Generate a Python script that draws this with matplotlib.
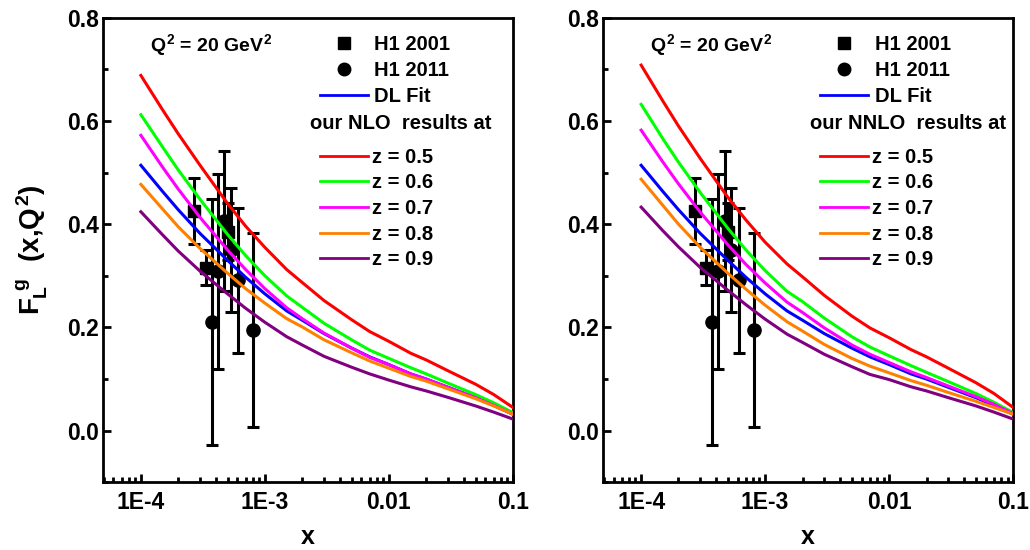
import matplotlib
matplotlib.use("Agg")
import matplotlib.pyplot as plt
from matplotlib.lines import Line2D
from matplotlib.ticker import FixedLocator, FixedFormatter, LogLocator, MultipleLocator, NullFormatter

plt.rcParams['font.family'] = ['Liberation Sans', 'DejaVu Sans']
plt.rcParams['font.weight'] = 'bold'
plt.rcParams['mathtext.fontset'] = 'custom'
plt.rcParams['mathtext.rm'] = 'Liberation Sans:bold'
plt.rcParams['mathtext.it'] = 'Liberation Sans:bold'
plt.rcParams['mathtext.bf'] = 'Liberation Sans:bold'

# curve grid (x) and values
x_curve = [1e-4, 1.5e-4, 2e-4, 3e-4, 5e-4, 7e-4, 1e-3, 1.5e-3, 2e-3, 3e-3,
           5e-3, 7e-3, 1e-2, 1.5e-2, 2e-2, 3e-2, 5e-2, 7e-2, 1e-1]

dl_fit = [0.514, 0.463, 0.428, 0.382, 0.330, 0.297, 0.265, 0.232, 0.214, 0.188,
          0.160, 0.143, 0.128, 0.110, 0.100, 0.084, 0.064, 0.049, 0.032]

nlo_z05 = [0.688, 0.621, 0.575, 0.514, 0.440, 0.396, 0.355, 0.312, 0.287, 0.252,
           0.215, 0.192, 0.173, 0.150, 0.137, 0.116, 0.090, 0.070, 0.045]
nlo_z06 = [0.612, 0.549, 0.505, 0.448, 0.380, 0.339, 0.300, 0.261, 0.239, 0.208,
           0.176, 0.156, 0.140, 0.122, 0.110, 0.092, 0.070, 0.054, 0.035]
nlo_z07 = [0.572, 0.510, 0.468, 0.413, 0.350, 0.312, 0.275, 0.238, 0.217, 0.189,
           0.160, 0.142, 0.128, 0.110, 0.100, 0.084, 0.064, 0.049, 0.032]
nlo_z08 = [0.477, 0.429, 0.395, 0.353, 0.305, 0.275, 0.247, 0.217, 0.201, 0.176,
           0.151, 0.135, 0.121, 0.105, 0.096, 0.081, 0.062, 0.048, 0.032]
nlo_z09 = [0.424, 0.379, 0.348, 0.309, 0.265, 0.237, 0.210, 0.182, 0.166, 0.144,
           0.123, 0.110, 0.098, 0.085, 0.077, 0.0645, 0.048, 0.036, 0.0225]

nnlo_z05 = [0.708, 0.638, 0.590, 0.527, 0.452, 0.408, 0.365, 0.323, 0.298, 0.262,
            0.222, 0.199, 0.180, 0.157, 0.143, 0.121, 0.093, 0.072, 0.045]
nnlo_z06 = [0.632, 0.565, 0.520, 0.461, 0.392, 0.350, 0.310, 0.270, 0.250, 0.218,
            0.182, 0.162, 0.145, 0.126, 0.113, 0.095, 0.072, 0.055, 0.035]
nnlo_z07 = [0.582, 0.520, 0.478, 0.423, 0.360, 0.322, 0.286, 0.249, 0.229, 0.199,
            0.166, 0.148, 0.132, 0.114, 0.103, 0.0865, 0.066, 0.051, 0.033]
nnlo_z08 = [0.487, 0.436, 0.400, 0.355, 0.305, 0.274, 0.243, 0.211, 0.193, 0.167,
            0.140, 0.125, 0.112, 0.097, 0.088, 0.074, 0.057, 0.045, 0.032]
nnlo_z09 = [0.433, 0.387, 0.356, 0.316, 0.272, 0.244, 0.216, 0.187, 0.171, 0.148,
            0.124, 0.109, 0.099, 0.085, 0.077, 0.064, 0.048, 0.036, 0.0225]

z_labels = ["z = 0.5", "z = 0.6", "z = 0.7", "z = 0.8", "z = 0.9"]
z_colors = ["#ff0000", "#00ff00", "#ff00ff", "#ff8000", "#800080"]

# H1 data
h1_2001_x = [2.7e-4, 3.36e-4, 5.0e-4]
h1_2001_y = [0.426, 0.316, 0.385]
h1_2001_err = [0.064, 0.034, 0.055]

h1_2011_x = [3.73e-4, 4.16e-4, 4.71e-4, 5.3e-4, 6.1e-4, 8.07e-4]
h1_2011_y = [0.210, 0.309, 0.406, 0.350, 0.291, 0.195]
h1_2011_err = [0.238, 0.189, 0.135, 0.120, 0.140, 0.187]

x_ticks = [1e-4, 1e-3, 1e-2, 1e-1]
x_tick_labels = ["1E-4", "1E-3", "0.01", "0.1"]

fig = plt.figure(figsize=(10.3, 5.5), dpi=100)
ax_l = fig.add_axes([0.100, 0.123, 0.398, 0.845])
ax_r = fig.add_axes([0.5857, 0.123, 0.398, 0.845])

panels = [
    (ax_l, [nlo_z05, nlo_z06, nlo_z07, nlo_z08, nlo_z09], "our NLO  results at", True),
    (ax_r, [nnlo_z05, nnlo_z06, nnlo_z07, nnlo_z08, nnlo_z09], "our NNLO  results at", False),
]

leg_font = {"size": 14.5, "weight": "bold"}

for ax, curves, order_text, show_ylabel in panels:
    ax.set_xscale("log")

    ax.errorbar(h1_2001_x, h1_2001_y, yerr=h1_2001_err, fmt="s", color="black",
                ms=8, elinewidth=2.2, capsize=4.5, capthick=2.2, zorder=2)
    ax.errorbar(h1_2011_x, h1_2011_y, yerr=h1_2011_err, fmt="o", color="black",
                ms=9.5, elinewidth=2.2, capsize=4.5, capthick=2.2, zorder=2)

    ax.plot(x_curve, dl_fit, color="#0000ff", lw=2.2, zorder=3)
    for vals, col in zip(curves, z_colors):
        ax.plot(x_curve, vals, color=col, lw=2.2, zorder=3)

    ax.set_xlim(4.95e-5, 0.1)
    ax.set_ylim(-0.1, 0.8)

    ax.xaxis.set_major_locator(FixedLocator(x_ticks))
    ax.xaxis.set_major_formatter(FixedFormatter(x_tick_labels))
    ax.xaxis.set_minor_locator(LogLocator(base=10, subs=range(2, 10)))
    ax.xaxis.set_minor_formatter(NullFormatter())
    ax.yaxis.set_major_locator(MultipleLocator(0.2))
    ax.yaxis.set_minor_locator(MultipleLocator(0.1))
    ax.yaxis.set_major_formatter(plt.FuncFormatter(lambda v, p: f"{v:.1f}"))

    ax.tick_params(which="both", direction="in", width=2, top=False, right=False,
                   labelsize=16.5)
    ax.tick_params(which="major", length=6)
    ax.tick_params(which="minor", length=3.5)
    ax.tick_params(axis="x", which="major", pad=6)
    ax.tick_params(axis="y", which="major", pad=3)
    for sp in ax.spines.values():
        sp.set_linewidth(2)
    for lab in ax.get_xticklabels() + ax.get_yticklabels():
        lab.set_fontweight("bold")

    ax.set_xlabel("x", fontsize=18, fontweight="bold", labelpad=8)
    if show_ylabel:
        ax.set_ylabel(r"$F_L^{\ g}\ \ (x{,}Q^2)$", fontsize=20, labelpad=12)

    ax.text(0.115, 0.94, r"$Q^2$ = 20 GeV$^2$", transform=ax.transAxes,
            fontsize=14, fontweight="bold", va="center", ha="left")

    h_data = [
        Line2D([], [], marker="s", ls="none", color="black", ms=8),
        Line2D([], [], marker="o", ls="none", color="black", ms=9),
        Line2D([], [], color="#0000ff", lw=2),
    ]
    leg1 = ax.legend(h_data, ["H1 2001", "H1 2011", "DL Fit"], loc="upper left",
                     bbox_to_anchor=(0.529, 0.962), frameon=False, borderpad=0,
                     borderaxespad=0, handlelength=2.4, handletextpad=0.3,
                     labelspacing=0.33, prop=leg_font)
    ax.add_artist(leg1)

    ax.text(0.505, 0.772, order_text, transform=ax.transAxes, fontsize=14.5,
            fontweight="bold", va="center", ha="left")

    h_z = [Line2D([], [], color=c, lw=2) for c in z_colors]
    ax.legend(h_z, z_labels, loc="upper left", bbox_to_anchor=(0.529, 0.720),
              frameon=False, borderpad=0, borderaxespad=0, handlelength=2.4,
              handletextpad=0.2, labelspacing=0.33, prop=leg_font)

fig.savefig("out.png", dpi=100)
